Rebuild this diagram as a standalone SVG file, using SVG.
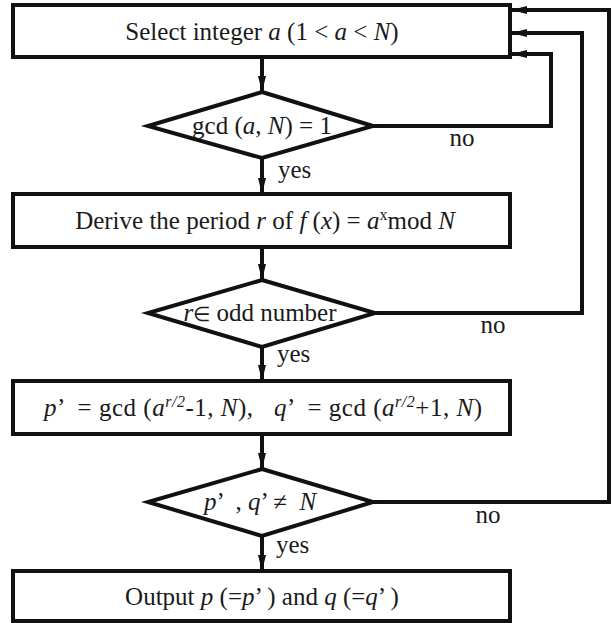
<svg xmlns="http://www.w3.org/2000/svg" width="613" height="623" viewBox="0 0 613 623">
<style>
.box{fill:#fff;stroke:#111;stroke-width:4}
.dia{fill:#fff;stroke:#111;stroke-width:4;stroke-linejoin:miter}
.ln{fill:none;stroke:#111;stroke-width:4}
text{font-family:"Liberation Serif","Times New Roman",serif;font-size:25px;fill:#1a1a1a}
.c{text-anchor:middle}
.i{font-style:italic}
.sup{font-size:16px}
.el{font-size:20px}
</style>
<defs>
<marker id="ah" viewBox="0 0 16 8" refX="16" refY="4" markerWidth="16" markerHeight="8" markerUnits="userSpaceOnUse" orient="auto">
<path d="M0,0 L16,4 L0,8 Z" fill="#111"/>
</marker>
</defs>
<rect width="613" height="623" fill="#fff"/>
<g id="connectors">
<line class="ln" x1="262" y1="57" x2="262" y2="92" marker-end="url(#ah)"/>
<line class="ln" x1="262" y1="158" x2="262" y2="194" marker-end="url(#ah)"/>
<line class="ln" x1="262" y1="247" x2="262" y2="280" marker-end="url(#ah)"/>
<line class="ln" x1="262" y1="347" x2="262" y2="381" marker-end="url(#ah)"/>
<line class="ln" x1="262" y1="434" x2="262" y2="469" marker-end="url(#ah)"/>
<line class="ln" x1="262" y1="536" x2="262" y2="571" marker-end="url(#ah)"/>
<polyline class="ln" points="373,126 551,126 551,54 511,54" marker-end="url(#ah)"/>
<polyline class="ln" points="375,313 582,313 582,33 511,33" marker-end="url(#ah)"/>
<polyline class="ln" points="373,502 609,502 609,10 511,10" marker-end="url(#ah)"/>
<text x="278" y="178">yes</text>
<text x="277" y="362">yes</text>
<text x="276" y="553">yes</text>
<text x="462" y="146" class="c">no</text>
<text x="493" y="333" class="c">no</text>
<text x="488" y="523" class="c">no</text>
</g>
<g id="n1">
<rect class="box" x="13" y="5" width="497" height="52"/>
<text x="262" y="40" class="c">Select integer <tspan class="i">a</tspan> (1 &lt; <tspan class="i">a</tspan> &lt; <tspan class="i">N</tspan>)</text>
</g>
<g id="n2">
<polygon class="dia" points="262,92 373,126 262,158 148,126"/>
<text x="262" y="134" class="c">gcd (<tspan class="i">a</tspan>, <tspan class="i">N</tspan>) = 1</text>
</g>
<g id="n3">
<rect class="box" x="13" y="194" width="497" height="53"/>
<text x="265" y="229" class="c">Derive the period <tspan class="i">r</tspan> of <tspan class="i">f</tspan> (<tspan class="i">x</tspan>) = <tspan class="i">a</tspan><tspan class="sup" dy="-9">x</tspan><tspan dy="9">mod </tspan><tspan class="i">N</tspan></text>
</g>
<g id="n4">
<polygon class="dia" points="262,280 375,313 262,347 148,313"/>
<text x="260" y="321" class="c"><tspan class="i">r</tspan><tspan class="el">∈</tspan> odd number</text>
</g>
<g id="n5">
<rect class="box" x="13" y="381" width="497" height="53"/>
<text x="263" y="416" class="c" xml:space="preserve" textLength="438" lengthAdjust="spacing"><tspan class="i">p</tspan>’  = gcd (<tspan class="i">a</tspan><tspan class="sup i" dy="-9">r/2</tspan><tspan dy="9">-1, </tspan><tspan class="i">N</tspan>),   <tspan class="i">q</tspan>’  = gcd (<tspan class="i">a</tspan><tspan class="sup i" dy="-9">r/2</tspan><tspan dy="9">+1, </tspan><tspan class="i">N</tspan>)</text>
</g>
<g id="n6">
<polygon class="dia" points="262,469 373,502 262,536 148,502"/>
<text x="260" y="510" class="c" xml:space="preserve"><tspan class="i">p</tspan>’  , <tspan class="i">q</tspan>’ ≠  <tspan class="i">N</tspan></text>
</g>
<g id="n7">
<rect class="box" x="13" y="571" width="497" height="50"/>
<text x="262" y="605" class="c">Output <tspan class="i">p</tspan> (=<tspan class="i">p</tspan>’ ) and <tspan class="i">q</tspan> (=<tspan class="i">q</tspan>’ )</text>
</g>
</svg>
